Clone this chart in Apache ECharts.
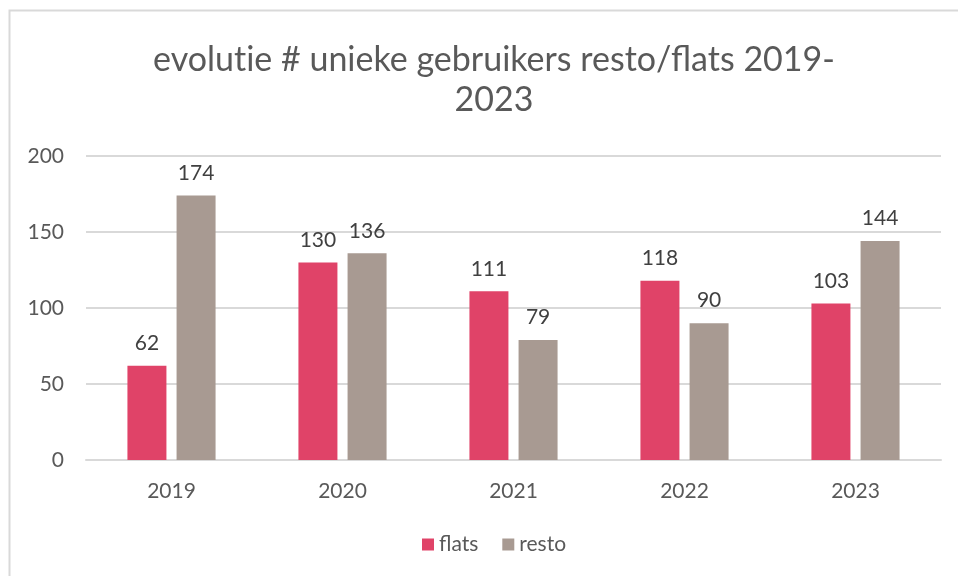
<!DOCTYPE html>
<html>
<head>
<meta charset="utf-8">
<script src="https://cdn.jsdelivr.net/npm/echarts@6/dist/echarts.min.js"></script>
<style>
  html, body { margin: 0; padding: 0; background: #fff; }
  #chart { width: 958px; height: 576px; }
</style>
</head>
<body>
<div id="chart"></div>
<script>
const years = ["2019", "2020", "2021", "2022", "2023"];
const flats = [62, 130, 111, 118, 103];
const resto = [174, 136, 79, 90, 144];
const yTicks = [0, 50, 100, 150, 200];

const chart = echarts.init(document.getElementById("chart"));
const font = "Lato, 'Open Sans', sans-serif";

const labelStyle = {
    show: true,
    position: "top",
    distance: 12,
    color: "#404040",
    fontSize: 21,
    fontFamily: font
};

chart.setOption({
    animation: false,
    title: {
        // zero-width non-joiner keeps Lato from using its "ti" ligature
        text: "evolut\u200Cie # unieke gebruikers resto/flats 2019-\n2023",
        left: 489,
        textAlign: "center",
        top: 35,
        textStyle: {
            color: "#595959",
            fontSize: 34,
            fontWeight: "normal",
            fontFamily: font,
            lineHeight: 40
        }
    },
    // light frame at top and left, like the original
    graphic: [{
        type: "rect",
        shape: { x: 9.5, y: 10.5, width: 1000, height: 1000 },
        style: { fill: null, stroke: "#d9d9d9", lineWidth: 2 }
    }],
    legend: {
        bottom: 16,
        left: 417,
        itemWidth: 12,
        itemHeight: 12,
        itemGap: 24,
        itemTextGap: 7,
        icon: "rect",
        textStyle: { color: "#595959", fontSize: 21, fontFamily: font }
    },
    grid: { left: 86, right: 17, top: 156, bottom: 116, containLabel: false },
    xAxis: {
        type: "category",
        data: years,
        axisTick: { show: false },
        axisLine: { lineStyle: { color: "#d9d9d9", width: 2 } },
        axisLabel: { color: "#595959", fontSize: 21, fontFamily: font, margin: 21 }
    },
    yAxis: {
        type: "value",
        min: yTicks[0],
        max: yTicks[yTicks.length - 1],
        interval: 50,
        axisLine: { show: false },
        axisTick: { show: false },
        axisLabel: { color: "#595959", fontSize: 21, fontFamily: font, margin: 22 },
        splitLine: { lineStyle: { color: "#d9d9d9", width: 2 } }
    },
    series: [
        {
            name: "flats",
            type: "bar",
            data: flats,
            barWidth: 39,
            barGap: "26%",
            itemStyle: { color: "#E04368" },
            label: labelStyle
        },
        {
            name: "resto",
            type: "bar",
            data: resto,
            barWidth: 39,
            itemStyle: { color: "#A89A92" },
            label: labelStyle
        }
    ]
});
</script>
</body>
</html>
